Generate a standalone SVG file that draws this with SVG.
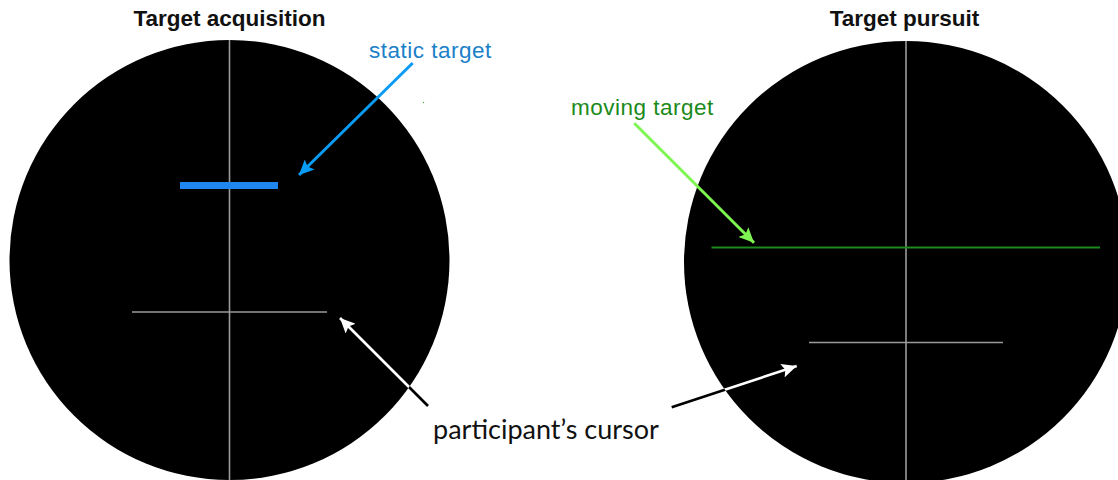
<svg xmlns="http://www.w3.org/2000/svg" width="1118" height="480" viewBox="0 0 1118 480">
<style>
.title{font-family:"Liberation Sans",Arial,sans-serif;font-weight:bold;font-size:22.5px;fill:#111;text-anchor:middle}
.lbl{font-family:"Liberation Sans",Arial,sans-serif;font-size:22.5px;letter-spacing:0.5px}
.cur{font-family:Lato,"Liberation Sans",sans-serif;font-size:27px;fill:#111}
.grid{stroke:#9a9a9a;stroke-width:1.6;fill:none}
.disc{fill:#000}
</style>
<defs>
<marker id="hBlue" markerUnits="userSpaceOnUse" markerWidth="16" markerHeight="14" refX="15" refY="7" orient="auto"><path d="M0,0 L15,7 L0,14 L3,7 z" fill="#0a9cf5"/></marker>
<marker id="hGreen" markerUnits="userSpaceOnUse" markerWidth="16" markerHeight="14" refX="15" refY="7" orient="auto"><path d="M0,0 L15,7 L0,14 L3,7 z" fill="#7ef552"/></marker>
<marker id="hWhite" markerUnits="userSpaceOnUse" markerWidth="16" markerHeight="14" refX="15" refY="7" orient="auto"><path d="M0,0 L15,7 L0,14 L3,7 z" fill="#fff"/></marker>
<marker id="hBlack" markerUnits="userSpaceOnUse" markerWidth="16" markerHeight="14" refX="15" refY="7" orient="auto"><path d="M0,0 L15,7 L0,14 L3,7 z" fill="#000"/></marker>
<clipPath id="clipL"><circle cx="229.5" cy="260" r="220"/></clipPath>
<clipPath id="clipR"><ellipse cx="906" cy="262" rx="222" ry="221"/></clipPath>
</defs>

<g id="acquisition">
<text class="title" x="229.5" y="26">Target acquisition</text>
<circle class="disc" cx="229.5" cy="260" r="220"/>
<line class="grid" x1="229.5" y1="40" x2="229.5" y2="480"/>
<rect x="180" y="182" width="98" height="7" fill="#1e86ee"/>
<line class="grid" x1="132" y1="312" x2="327" y2="312"/>
</g>

<g id="pursuit">
<text class="title" x="904.5" y="26">Target pursuit</text>
<ellipse class="disc" cx="906" cy="262" rx="222" ry="221"/>
<line class="grid" x1="906" y1="41" x2="906" y2="480"/>
<line x1="711.5" y1="247.5" x2="1100" y2="247.5" stroke="#1d8a1d" stroke-width="2"/>
<line class="grid" x1="809" y1="342.5" x2="1003" y2="342.5"/>
</g>

<g id="labels">
<text class="lbl" x="369" y="58" fill="#1a80c8">static target</text>
<text class="lbl" x="571" y="114.5" fill="#1a8a1a">moving target</text>
<text class="cur" x="433" y="439">participant’s cursor</text>
<circle cx="423.5" cy="102.5" r="0.7" fill="#4a4"/>
</g>

<g id="connectors">
<line x1="412.7" y1="63" x2="299" y2="175" stroke="#0a9cf5" stroke-width="3" marker-end="url(#hBlue)"/>
<line x1="634.3" y1="123.3" x2="754" y2="242.7" stroke="#7ef552" stroke-width="3" marker-end="url(#hGreen)"/>
<line x1="428" y1="406" x2="340" y2="318" stroke="#000" stroke-width="2.6" marker-end="url(#hBlack)"/>
<line x1="428" y1="406" x2="340" y2="318" stroke="#fff" stroke-width="2.6" marker-end="url(#hWhite)" clip-path="url(#clipL)"/>
<line x1="671.7" y1="407.3" x2="796.7" y2="366" stroke="#000" stroke-width="2.6" marker-end="url(#hBlack)"/>
<line x1="671.7" y1="407.3" x2="796.7" y2="366" stroke="#fff" stroke-width="2.6" marker-end="url(#hWhite)" clip-path="url(#clipR)"/>
</g>
</svg>
